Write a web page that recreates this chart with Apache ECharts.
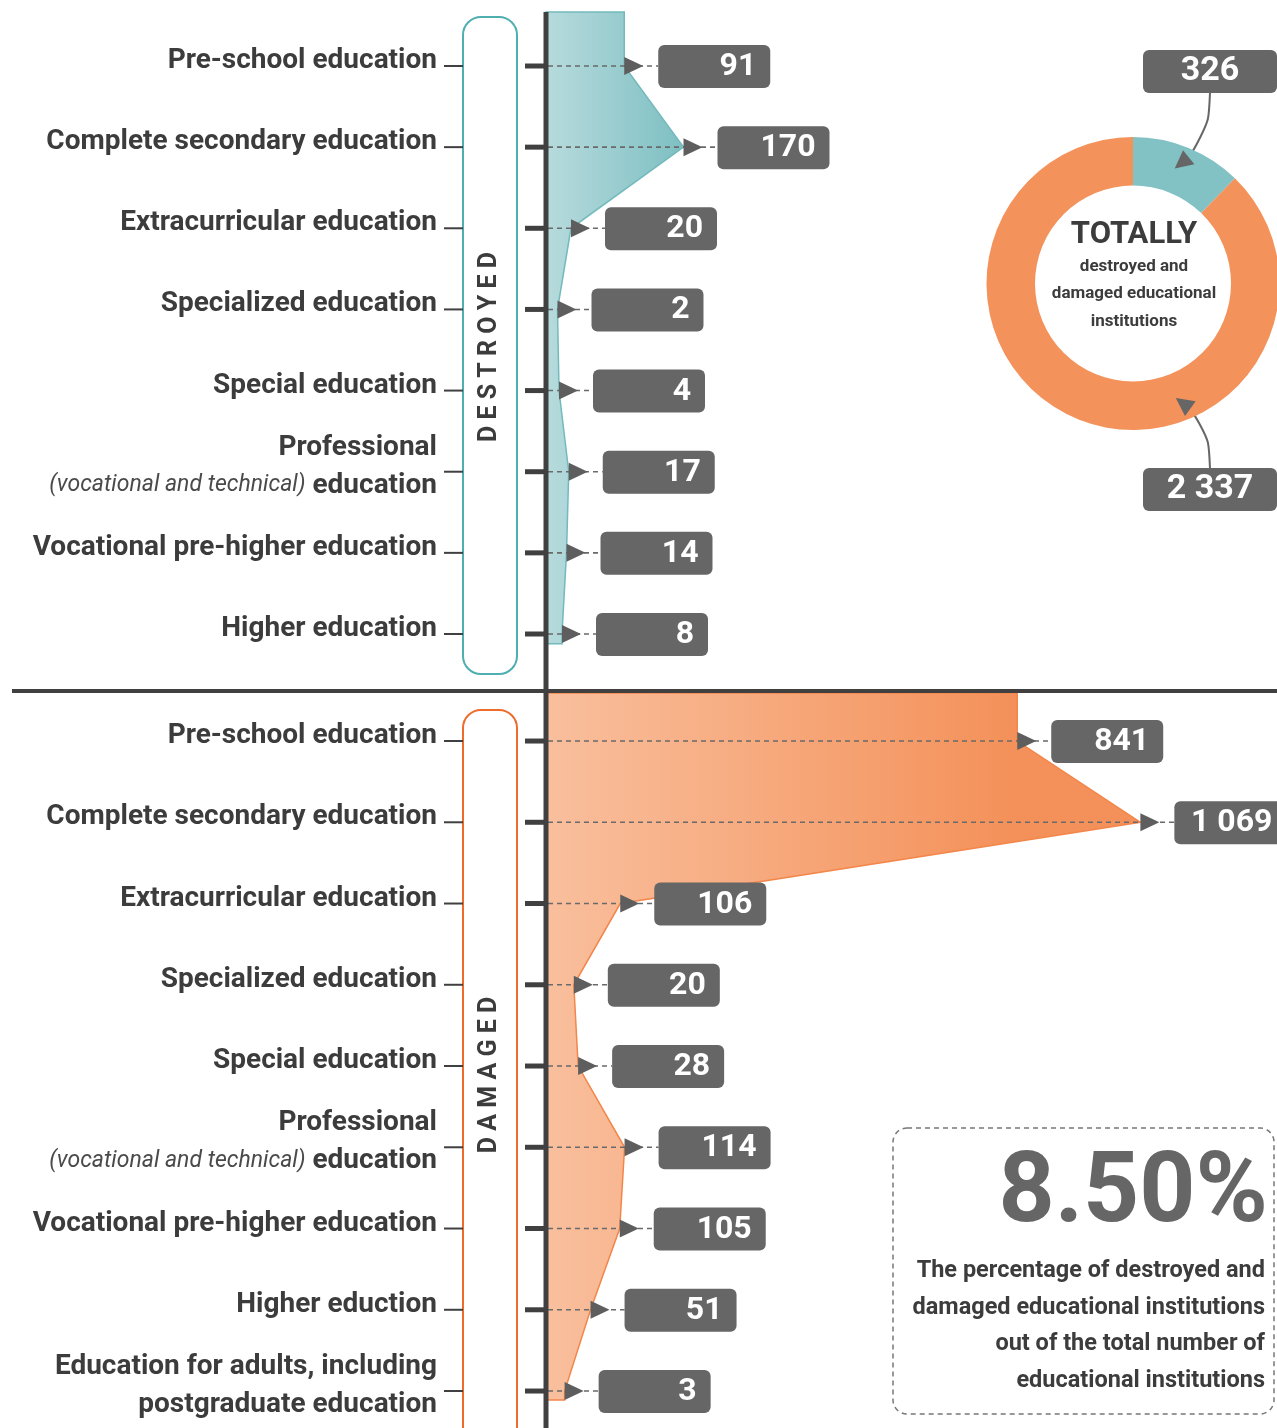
<!DOCTYPE html>
<html>
<head>
<meta charset="utf-8">
<script src="https://cdn.jsdelivr.net/npm/echarts@6/dist/echarts.min.js"></script>
<style>
  html, body { margin: 0; padding: 0; background: #fff; }
  #chart { width: 1277px; height: 1428px; }
</style>
</head>
<body>
<div id="chart"></div>
<script>
// ---- data ----
const destroyedCategories = [
  'Pre-school education',
  'Complete secondary education',
  'Extracurricular education',
  'Specialized education',
  'Special education',
  'Professional\n(vocational and technical) education',
  'Vocational pre-higher education',
  'Higher education',
]
const destroyedValues = [91, 170, 20, 2, 4, 17, 14, 8]

const damagedCategories = [
  'Pre-school education',
  'Complete secondary education',
  'Extracurricular education',
  'Specialized education',
  'Special education',
  'Professional\n(vocational and technical) education',
  'Vocational pre-higher education',
  'Higher eduction',
  'Education for adults, including\npostgraduate education',
]
const damagedValues = [841, 1069, 106, 20, 28, 114, 105, 51, 3]

const totalNames = ['Destroyed', 'Damaged']
const totalValues = [326, 2337]

const shareValue = '8.50%'
const shareText = [
  'The percentage of destroyed and',
  'damaged educational institutions',
  'out of the total number of',
  'educational institutions',
]

// ---- styling ----
const FONT = "Roboto, 'Liberation Sans', sans-serif"
const DARK = '#3c3c3c'
const BOX = '#666666'
const AXIS_X = 546
const PIE_CENTER = [1133, 283.5]
const PIE_RADIUS = [98, 146.5]
const PIE_BOXES = [[1210, 71.5], [1210, 489.5]]

const fmt = (v) => String(v).replace(/\B(?=(\d{3})+(?!\d))/g, ' ')

function richLabel(value) {
  return value
    .split('\n')
    .map((line) => {
      const m = line.match(/^(.*?)(\(.*\))(.*)$/)
      if (!m) return '{b|' + line + '}'
      return (m[1] ? '{b|' + m[1] + '}' : '') + '{i|' + m[2] + '}' + '{b|' + m[3] + '}'
    })
    .join('\n')
}

const labelRich = {
  b: { fontFamily: FONT, fontWeight: 'bold', fontSize: 28, color: DARK, lineHeight: 38 },
  i: { fontFamily: FONT, fontStyle: 'italic', fontSize: 23, color: '#4a4a4a', lineHeight: 38 },
}

function sectionAxes(gridIndex, categories, n) {
  return [
    {
      type: 'category',
      gridIndex,
      inverse: true,
      data: categories,
      axisLine: { show: false },
      axisTick: { show: false },
      axisLabel: { interval: 0, margin: 109, padding: [0, 0, 10, 0], formatter: richLabel, rich: labelRich },
    },
    {
      type: 'value',
      gridIndex,
      inverse: true,
      min: -0.5,
      max: n - 0.5,
      show: false,
    },
  ]
}

// polygon area from the axis, through every point, with flat ends
function areaSeries(xAxisIndex, yAxisIndex, values, xMin, yStart, yEnd, fill, stroke) {
  return {
    type: 'custom',
    xAxisIndex,
    yAxisIndex,
    z: 2,
    silent: true,
    data: values.map((v, i) => [v, i]),
    renderItem(params, api) {
      if (params.dataIndex !== 0) return null
      const pts = [api.coord([xMin, yStart]), api.coord([values[0], yStart])]
      values.forEach((v, i) => pts.push(api.coord([v, i])))
      pts.push(api.coord([values[values.length - 1], yEnd]))
      pts.push(api.coord([xMin, yEnd]))
      return {
        type: 'polygon',
        shape: { points: pts },
        style: { fill, stroke, lineWidth: 1.5 },
      }
    },
  }
}

// tick marks, dashed guide, arrow and value box for each row
function markerSeries(xAxisIndex, yAxisIndex, values) {
  return {
    type: 'custom',
    xAxisIndex,
    yAxisIndex,
    z: 3,
    silent: true,
    data: values.map((v, i) => [v, i]),
    renderItem(params, api) {
      const v = api.value(0)
      const p = api.coord([v, api.value(1)])
      const boxX = p[0] + 34
      return {
        type: 'group',
        children: [
          {
            type: 'rect',
            shape: { x: AXIS_X - 21, y: p[1] - 2.5, width: 21, height: 5 },
            style: { fill: '#404040' },
          },
          {
            type: 'line',
            shape: { x1: 444, y1: p[1], x2: 463, y2: p[1] },
            style: { stroke: '#404040', lineWidth: 2 },
          },
          {
            type: 'line',
            shape: { x1: AXIS_X + 2, y1: p[1], x2: boxX, y2: p[1] },
            style: { stroke: '#6a6a6a', lineWidth: 1.6, lineDash: [5, 4] },
          },
          {
            type: 'polygon',
            shape: { points: [[p[0], p[1] - 9], [p[0] + 19, p[1]], [p[0], p[1] + 9]] },
            style: { fill: '#5e5e5e' },
          },
          {
            type: 'rect',
            shape: { x: boxX, y: p[1] - 21, width: 112, height: 43, r: 6 },
            style: { fill: BOX },
          },
          {
            type: 'text',
            x: boxX + 98,
            y: p[1] + 1,
            style: {
              text: fmt(v),
              fill: '#fff',
              fontFamily: FONT,
              fontWeight: 'bold',
              fontSize: 32,
              align: 'right',
              verticalAlign: 'middle',
            },
          },
        ],
      }
    },
  }
}

// arrow tip inside the ring, aimed at the value box
function pieTip(i) {
  const dx = PIE_BOXES[i][0] - PIE_CENTER[0]
  const dy = PIE_BOXES[i][1] - PIE_CENTER[1]
  const len = Math.hypot(dx, dy)
  const r = (PIE_RADIUS[0] + PIE_RADIUS[1]) / 2
  return [PIE_CENTER[0] + (dx / len) * r, PIE_CENTER[1] + (dy / len) * r]
}

function arrowHead(tip, from) {
  const dx = tip[0] - from[0]
  const dy = tip[1] - from[1]
  const len = Math.hypot(dx, dy)
  const ux = dx / len
  const uy = dy / len
  const bx = tip[0] - ux * 18
  const by = tip[1] - uy * 18
  return [[tip[0], tip[1]], [bx - uy * 9, by + ux * 9], [bx + uy * 9, by - ux * 9]]
}

const tips = [pieTip(0), pieTip(1)]
const lineStarts = [
  [PIE_BOXES[0][0], PIE_BOXES[0][1] + 21],
  [PIE_BOXES[1][0], PIE_BOXES[1][1] - 21],
]
const lineMids = [
  [PIE_BOXES[0][0] - 2, PIE_BOXES[0][1] + 70],
  [PIE_BOXES[1][0] - 2, PIE_BOXES[1][1] - 68],
]

const chart = echarts.init(document.getElementById('chart'))

chart.setOption({
  backgroundColor: '#fff',
  animation: false,
  grid: [
    { left: AXIS_X, right: 0, top: 25.43, height: 649.14, outerBoundsMode: 'none', containLabel: false },
    { left: AXIS_X, right: 0, top: 700.4, height: 731.25, outerBoundsMode: 'none', containLabel: false },
  ],
  xAxis: [
    { type: 'value', gridIndex: 0, min: -13.33, max: 961.33, show: false },
    { type: 'value', gridIndex: 1, min: -31.5, max: 1322, show: false },
  ],
  yAxis: [
    ...sectionAxes(0, destroyedCategories, destroyedValues.length),
    ...sectionAxes(1, damagedCategories, damagedValues.length),
  ],
  series: [
    areaSeries(0, 1, destroyedValues, -13.33, -0.666, 7.12,
      new echarts.graphic.LinearGradient(0, 0, 1, 0, [
        { offset: 0, color: '#b8dbdd' },
        { offset: 1, color: '#7dbfc2' },
      ]),
      '#73babd'),
    markerSeries(0, 1, destroyedValues),
    areaSeries(1, 3, damagedValues, -31.5, -0.59, 8.11,
      new echarts.graphic.LinearGradient(0, 0, 1, 0, [
        { offset: 0, color: '#f9bf9d' },
        { offset: 0.78, color: '#f4915a' },
        { offset: 1, color: '#f4915a' },
      ]),
      '#f3864a'),
    markerSeries(1, 3, damagedValues),
    {
      type: 'pie',
      center: PIE_CENTER,
      radius: PIE_RADIUS,
      startAngle: 90,
      silent: true,
      color: ['#82c1c4', '#f4925b'],
      data: totalNames.map((name, i) => ({ name, value: totalValues[i] })),
      label: {
        formatter: (p) => fmt(p.value),
        color: '#fff',
        backgroundColor: BOX,
        borderRadius: 6,
        width: 114,
        height: 43,
        lineHeight: 43,
        padding: [0, 10],
        align: 'center',
        fontFamily: FONT,
        fontWeight: 'bold',
        fontSize: 34,
      },
      labelLine: { show: true, smooth: 0.5, lineStyle: { color: '#666', width: 2 } },
      labelLayout: (p) => ({
        x: PIE_BOXES[p.dataIndex][0],
        y: PIE_BOXES[p.dataIndex][1],
        align: 'center',
        verticalAlign: 'middle',
        labelLinePoints: [tips[p.dataIndex], lineMids[p.dataIndex], lineStarts[p.dataIndex]],
      }),
    },
  ],
  graphic: [
    // main axis + divider
    { type: 'line', z: 10, shape: { x1: AXIS_X, y1: 12, x2: AXIS_X, y2: 1428 }, style: { stroke: '#404040', lineWidth: 5 } },
    { type: 'line', z: 10, shape: { x1: 12, y1: 691, x2: 1277, y2: 691 }, style: { stroke: '#404040', lineWidth: 4 } },
    // section frames
    { type: 'rect', shape: { x: 463, y: 17, width: 54, height: 657, r: 18 }, style: { fill: 'none', stroke: '#4eaeb0', lineWidth: 2 } },
    { type: 'rect', shape: { x: 463, y: 710, width: 54, height: 740, r: 18 }, style: { fill: 'none', stroke: '#ef6b2c', lineWidth: 2 } },
    {
      type: 'text', x: 490, y: 347, rotation: Math.PI / 2,
      style: { text: 'D E S T R O Y E D', fill: DARK, fontFamily: FONT, fontWeight: 'bold', fontSize: 25, align: 'center', verticalAlign: 'middle' },
    },
    {
      type: 'text', x: 490, y: 1075, rotation: Math.PI / 2,
      style: { text: 'D A M A G E D', fill: DARK, fontFamily: FONT, fontWeight: 'bold', fontSize: 25, align: 'center', verticalAlign: 'middle' },
    },
    // pie arrow heads
    { type: 'polygon', z: 20, shape: { points: arrowHead(tips[0], lineMids[0]) }, style: { fill: '#666' } },
    { type: 'polygon', z: 20, shape: { points: arrowHead(tips[1], lineMids[1]) }, style: { fill: '#666' } },
    // donut centre
    {
      type: 'text', x: 1134, y: 235,
      style: { text: 'TOTALLY', fill: DARK, fontFamily: FONT, fontWeight: 'bold', fontSize: 31, align: 'center', verticalAlign: 'middle' },
    },
    {
      type: 'text', x: 1134, y: 294,
      style: {
        text: 'destroyed and\ndamaged educational\ninstitutions',
        fill: DARK, fontFamily: FONT, fontWeight: 'bold', fontSize: 17, lineHeight: 27.5,
        align: 'center', verticalAlign: 'middle',
      },
    },
    // share box
    {
      type: 'rect', shape: { x: 893, y: 1128, width: 381, height: 286, r: 14 },
      style: { fill: 'none', stroke: '#777', lineWidth: 1.5, lineDash: [5, 4] },
    },
    {
      type: 'text', x: 1268, y: 1196,
      style: { text: shareValue, fill: '#666', fontFamily: FONT, fontWeight: 'bold', fontSize: 98, align: 'right', verticalAlign: 'middle' },
    },
    {
      type: 'text', x: 1265, y: 1326,
      style: {
        text: shareText.join('\n'), fill: DARK, fontFamily: FONT, fontWeight: 'bold', fontSize: 23.5, lineHeight: 36.5,
        align: 'right', verticalAlign: 'middle',
      },
    },
  ],
})
</script>
</body>
</html>
